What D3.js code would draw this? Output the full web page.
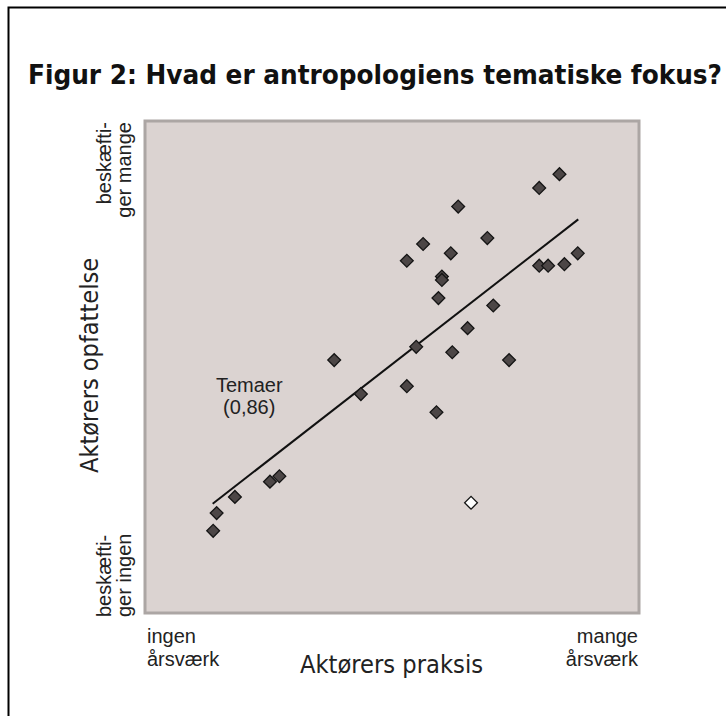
<!DOCTYPE html>
<html>
<head>
<meta charset="utf-8">
<script src="https://cdn.jsdelivr.net/npm/d3@7"></script>
<style>
  body { margin: 0; background: #fff; }
  svg { display: block; }
  .narrow { font-family: "Liberation Sans Narrow", "Arial Narrow", "DejaVu Sans Condensed", "Liberation Sans", sans-serif; }
  .plain { font-family: "Liberation Sans", Arial, sans-serif; }
</style>
</head>
<body>
<script>
// values, in units 0..10 on both axes
let praksis = [8.39, 7.98, 6.34, 5.63, 6.93, 6.19, 5.30, 6.01, 6.01, 5.94,
  7.98, 8.16, 8.49, 8.76, 7.05, 6.53, 5.49, 6.22, 7.37, 3.83,
  4.37, 5.30, 5.90, 2.72, 2.53, 1.82, 1.45, 1.38];
let opfattelse = [8.92, 8.64, 8.26, 7.50, 7.62, 7.31, 7.16, 6.84, 6.77, 6.40,
  7.06, 7.06, 7.09, 7.31, 6.25, 5.79, 5.41, 5.30, 5.14, 5.14,
  4.45, 4.61, 4.08, 2.78, 2.67, 2.36, 2.03, 1.67];
// the single open (white) diamond
let afvigerX = [6.60];
let afvigerY = [2.24];
// fitted line end points
let linjeX = [1.37, 8.77];
let linjeY = [2.22, 8.00];

let title = "Figur 2: Hvad er antropologiens tematiske fokus?";
let xTitle = "Aktørers praksis";
let yTitle = "Aktørers opfattelse";
let xLow = ["ingen", "årsværk"];
let xHigh = ["mange", "årsværk"];
let yLow = ["beskæfti-", "ger ingen"];
let yHigh = ["beskæfti-", "ger mange"];
let lineLabel = ["Temaer", "(0,86)"];
let lineLabelAt = [2.11, 4.5];

let svg_width = 726;
let svg_height = 716;
let plot = { left: 145, top: 121, right: 639, bottom: 613 };

let svg = d3.select("body").append("svg")
  .attr("width", svg_width)
  .attr("height", svg_height);

// frame (only top and left edges fall inside the picture)
svg.append("path")
  .attr("d", "M8.5,716 L8.5,7.5 L726,7.5")
  .attr("fill", "none")
  .attr("stroke", "#000")
  .attr("stroke-width", 2);

svg.append("text")
  .attr("class", "narrow")
  .attr("x", 28)
  .attr("y", 84)
  .attr("font-size", 26)
  .attr("font-weight", "bold")
  .attr("fill", "#111")
  .attr("textLength", 694)
  .attr("lengthAdjust", "spacingAndGlyphs")
  .text(title);

let x_scale = d3.scaleLinear().domain([0, 10]).range([plot.left, plot.right]);
let y_scale = d3.scaleLinear().domain([0, 10]).range([plot.bottom, plot.top]);

// panel
svg.append("rect")
  .attr("x", plot.left)
  .attr("y", plot.top)
  .attr("width", plot.right - plot.left)
  .attr("height", plot.bottom - plot.top)
  .attr("fill", "#dbd3d1")
  .attr("stroke", "#aca6a4")
  .attr("stroke-width", 3);

// fitted line
svg.append("line")
  .attr("x1", x_scale(linjeX[0]))
  .attr("y1", y_scale(linjeY[0]))
  .attr("x2", x_scale(linjeX[1]))
  .attr("y2", y_scale(linjeY[1]))
  .attr("stroke", "#111")
  .attr("stroke-width", 2);

let diamond = d3.symbol().type(d3.symbolSquare).size(82);

let points = praksis.map((d, i) => ({ x: d, y: opfattelse[i], open: false }))
  .concat(afvigerX.map((d, i) => ({ x: d, y: afvigerY[i], open: true })));

svg.append("g").selectAll("path")
  .data(points)
  .join("path")
  .attr("d", diamond)
  .attr("transform", d => `translate(${x_scale(d.x)},${y_scale(d.y)}) rotate(45)`)
  .attr("fill", d => d.open ? "#fff" : "#4c4646")
  .attr("stroke", "#151515")
  .attr("stroke-width", 1.3);

// label at the line
svg.append("text")
  .attr("class", "plain")
  .attr("x", x_scale(lineLabelAt[0]))
  .attr("y", y_scale(lineLabelAt[1]))
  .attr("text-anchor", "middle")
  .attr("font-size", 20)
  .attr("fill", "#222")
  .selectAll("tspan")
  .data(lineLabel)
  .join("tspan")
  .attr("x", x_scale(lineLabelAt[0]))
  .attr("dy", (d, i) => i === 0 ? 0 : 22)
  .text(d => d);

// x axis end labels
function stacked(lines, x, y, anchor) {
  let t = svg.append("text")
    .attr("class", "plain")
    .attr("font-size", 20)
    .attr("fill", "#222")
    .attr("text-anchor", anchor);
  t.selectAll("tspan")
    .data(lines)
    .join("tspan")
    .attr("x", x)
    .attr("y", (d, i) => y + i * 23)
    .text(d => d);
}
stacked(xLow, x_scale(0) + 2, 643, "start");
stacked(xHigh, x_scale(10) - 1, 643, "end");

svg.append("text")
  .attr("class", "narrow")
  .attr("x", (x_scale(0) + x_scale(10)) / 2 - 0.5)
  .attr("y", 673)
  .attr("text-anchor", "middle")
  .attr("font-size", 25)
  .attr("fill", "#222")
  .attr("textLength", 183)
  .attr("lengthAdjust", "spacingAndGlyphs")
  .text(xTitle);

// y axis end labels (rotated)
function stackedV(lines, xBase, y, anchor) {
  lines.forEach(function (d, i) {
    svg.append("text")
      .attr("class", "plain")
      .attr("font-size", 20)
      .attr("fill", "#222")
      .attr("text-anchor", anchor)
      .attr("transform", `translate(${xBase + i * 20},${y}) rotate(-90)`)
      .text(d);
  });
}
stackedV(yHigh, 111, y_scale(10) + 1, "end");
stackedV(yLow, 111, y_scale(0) + 4, "start");

svg.append("text")
  .attr("class", "narrow")
  .attr("font-size", 25)
  .attr("fill", "#222")
  .attr("text-anchor", "middle")
  .attr("textLength", 215)
  .attr("lengthAdjust", "spacingAndGlyphs")
  .attr("transform", `translate(98,${(y_scale(0) + y_scale(10)) / 2 - 1.5}) rotate(-90)`)
  .text(yTitle);
</script>
</body>
</html>
